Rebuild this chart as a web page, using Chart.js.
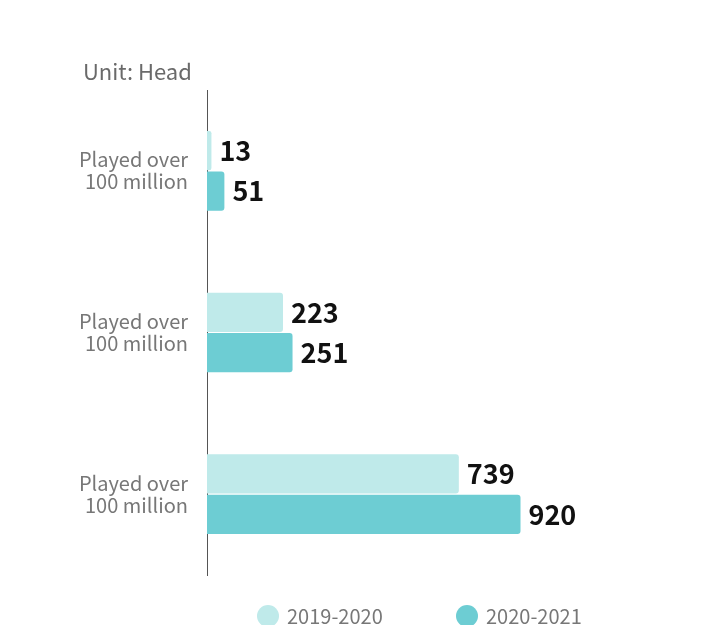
<!DOCTYPE html>
<html>
<head>
<meta charset="utf-8">
<script src="https://cdn.jsdelivr.net/npm/chart.js@4"></script>
<style>
  html, body { margin: 0; padding: 0; background: #fff; }
  #wrap { position: relative; width: 718px; height: 625px; font-family: "Noto Sans CJK SC", "Noto Sans", sans-serif; }
  #chart { position: absolute; left: 0; top: 0; }
  #unit { position: absolute; left: 83px; top: 54px; font-size: 22px; color: #6a6a6a; }
  #legend { position: absolute; top: 601px; left: 0; }
  .item { position: absolute; display: flex; align-items: center; font-size: 20px; color: #777; white-space: nowrap; }
  .dot { width: 22px; height: 22px; border-radius: 50%; margin-right: 8px; }
</style>
</head>
<body>
<div id="wrap">
  <canvas id="chart" width="718" height="625"></canvas>
  <div id="unit">Unit: Head</div>
  <div id="legend"></div>
</div>
<script>
const categories = [['Played over', '100 million'], ['Played over', '100 million'], ['Played over', '100 million']];
const seriesNames = ['2019-2020', '2020-2021'];
const values2019 = [13, 223, 739];
const values2020 = [51, 251, 920];
const seriesColors = ['#bfeaea', '#6dcdd3'];
const legendLeft = [257, 456];

Chart.defaults.font.family = '"Noto Sans CJK SC", "Noto Sans", sans-serif';

// numbers at the end of each bar
const valueLabels = {
  id: 'valueLabels',
  afterDatasetsDraw(chart) {
    const ctx = chart.ctx;
    ctx.save();
    ctx.font = 'bold 27px "Noto Sans CJK SC", "Noto Sans", sans-serif';
    ctx.fillStyle = '#111';
    ctx.textAlign = 'left';
    ctx.textBaseline = 'middle';
    chart.data.datasets.forEach((ds, i) => {
      chart.getDatasetMeta(i).data.forEach((bar, j) => {
        ctx.fillText(String(ds.data[j]), bar.x + 8, bar.y);
      });
    });
    ctx.restore();
  },
};

const chart = new Chart(document.getElementById('chart'), {
  type: 'bar',
  data: {
    labels: categories,
    datasets: [
      { label: seriesNames[0], data: values2019, backgroundColor: seriesColors[0] },
      { label: seriesNames[1], data: values2020, backgroundColor: seriesColors[1] },
    ],
  },
  options: {
    indexAxis: 'y',
    responsive: false,
    animation: false,
    layout: { padding: { left: 0, right: 68, top: 90, bottom: 50 } },
    datasets: {
      bar: { categoryPercentage: 0.5, barPercentage: 0.97, borderRadius: 3, borderSkipped: 'start' },
    },
    plugins: { legend: { display: false }, tooltip: { enabled: false } },
    scales: {
      x: { display: false, min: 0, max: 1300 },
      y: {
        grid: { display: false, drawTicks: false },
        border: { display: true, color: '#555', width: 1 },
        ticks: { color: '#777', padding: 19, font: { size: 20, lineHeight: 1.1 } },
        afterFit(scale) { scale.width = 207; },
      },
    },
  },
  plugins: [valueLabels],
});

const legend = document.getElementById('legend');
seriesNames.forEach((name, i) => {
  const item = document.createElement('div');
  item.className = 'item';
  item.style.left = legendLeft[i] + 'px';
  item.innerHTML = `<span class="dot" style="background:${seriesColors[i]}"></span><span>${name}</span>`;
  legend.appendChild(item);
});
</script>
</body>
</html>
